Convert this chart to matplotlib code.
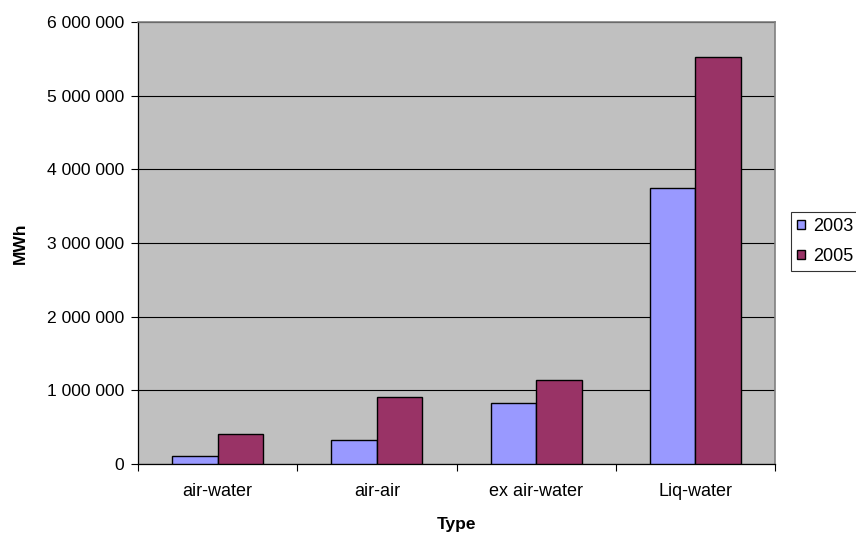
import matplotlib
matplotlib.use("Agg")
import matplotlib.pyplot as plt
import numpy as np
from matplotlib.ticker import FuncFormatter, FixedLocator

plt.rcParams['font.family'] = ['Liberation Sans', 'DejaVu Sans']

categories = ["air-water", "air-air", "ex air-water", "Liq-water"]
series_names = ["2003", "2005"]
values_2003 = [115000, 330000, 825000, 3750000]
values_2005 = [410000, 905000, 1135000, 5530000]
colors = ["#9999FF", "#993366"]

fig = plt.figure(figsize=(8.56, 5.33), dpi=100)
L, R, T, B = 138, 775, 22, 464
ax = fig.add_axes([L/856, (533-B)/533, (R-L)/856, (B-T)/533])
ax.set_facecolor("#C0C0C0")

x = np.arange(len(categories))
w = 1/3.5
ax.bar(x - w/2, values_2003, w, color=colors[0], edgecolor="black", linewidth=1.0, label=series_names[0], zorder=3)
ax.bar(x + w/2, values_2005, w, color=colors[1], edgecolor="black", linewidth=1.0, label=series_names[1], zorder=3)

ax.set_xlim(-0.5, len(categories) - 0.5)
ax.set_ylim(0, 6000000)
ax.set_yticks(np.arange(0, 6000001, 1000000))
ax.yaxis.set_major_formatter(FuncFormatter(lambda v, p: f"{int(v):,}".replace(",", " ")))
ax.yaxis.grid(True, color="black", linewidth=0.8, zorder=1)
ax.set_axisbelow(True)

ax.xaxis.set_major_locator(FixedLocator(np.arange(-0.5, len(categories), 1.0)))
ax.xaxis.set_major_formatter(FuncFormatter(lambda v, p: ""))
ax.xaxis.set_minor_locator(FixedLocator(x))
ax.set_xticklabels(categories, minor=True)
ax.tick_params(axis="x", which="major", length=5, width=0.8, color="black", direction="out")
ax.tick_params(axis="x", which="minor", length=0, pad=14, labelsize=13)
ax.tick_params(axis="y", which="major", length=5, width=0.8, direction="out", labelsize=12.6, pad=5)

for s in ["top", "right"]:
    ax.spines[s].set_color("#808080")
    ax.spines[s].set_linewidth(1.2)
for s in ["left", "bottom"]:
    ax.spines[s].set_color("black")
    ax.spines[s].set_linewidth(0.9)

ax.set_ylabel("MWh", fontsize=12.5, fontweight="bold", labelpad=14)
ax.set_xlabel("Type", fontsize=12.5, fontweight="bold", labelpad=12)

leg = fig.legend(loc="upper left", bbox_to_anchor=(791/856, (533-212)/533), frameon=True,
                 fontsize=13, handlelength=0.4, handleheight=0.4, handletextpad=0.45,
                 borderpad=0.35, labelspacing=0.7, fancybox=False, borderaxespad=0)
leg.get_frame().set_edgecolor("black")
leg.get_frame().set_linewidth(0.8)

fig.savefig("out.png", dpi=100, facecolor="white")
